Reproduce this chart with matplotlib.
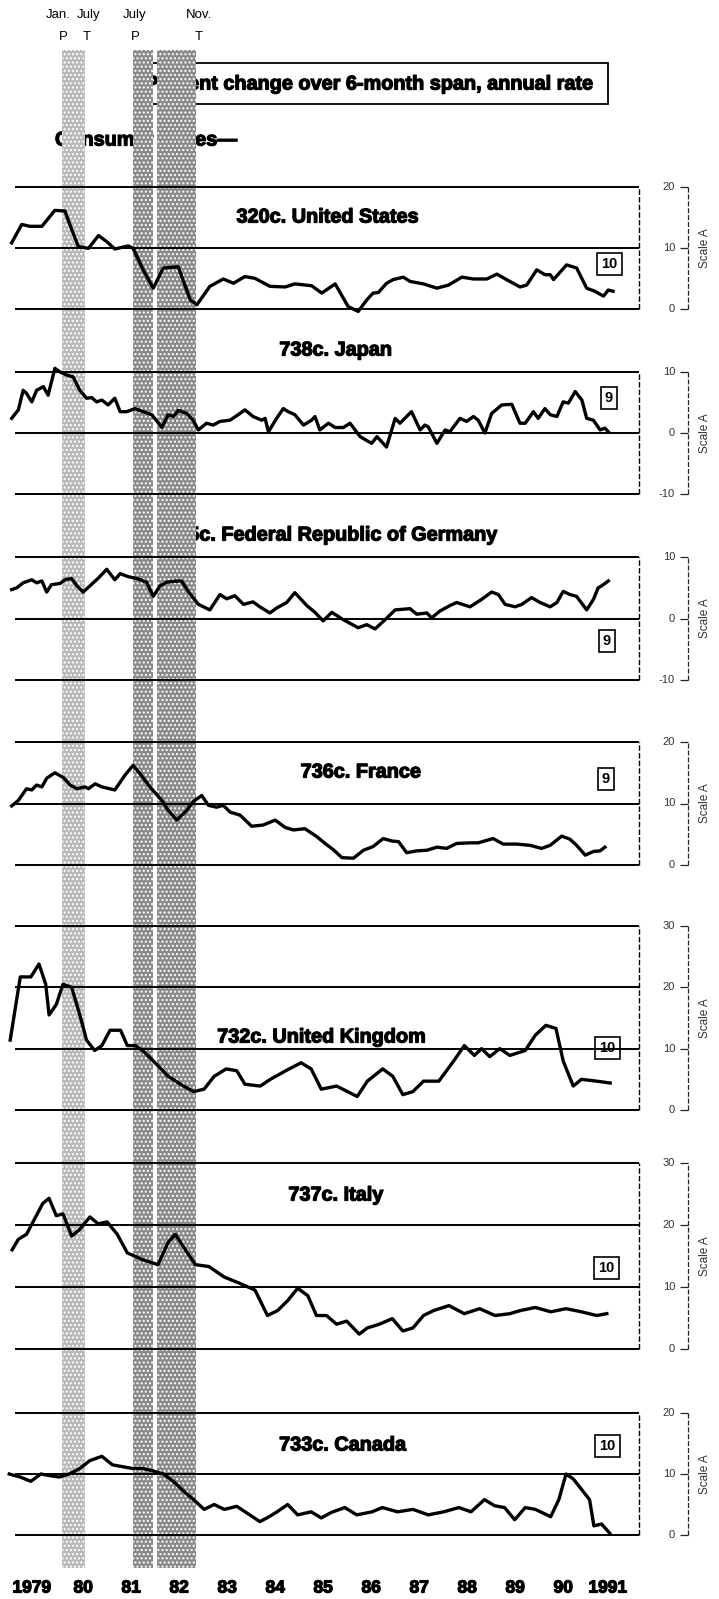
import matplotlib
matplotlib.use("Agg")
import matplotlib.pyplot as plt
import matplotlib.patheffects as pe
from matplotlib.patches import Rectangle

W, H = 719, 1599
FONT = ["Liberation Sans", "DejaVu Sans"]
plt.rcParams["font.family"] = FONT

# ---- data (year, percent) ----
us_years = [1978.93, 1979.14, 1979.31, 1979.56, 1979.83, 1980.04, 1980.18, 1980.32, 1980.53, 1980.74,
            1980.91, 1981.08, 1981.36, 1981.46, 1981.67, 1981.88, 1982.09, 1982.40, 1982.65, 1982.79,
            1983.06, 1983.34, 1983.55, 1983.79, 1984.00, 1984.31, 1984.63, 1984.83, 1985.18, 1985.39,
            1985.67, 1985.94, 1986.15, 1986.33, 1986.46, 1986.57, 1986.74, 1986.88, 1987.09, 1987.23,
            1987.51, 1987.79, 1988.03, 1988.31, 1988.55, 1988.83, 1989.04, 1989.24, 1989.52, 1989.66,
            1989.87, 1990.04, 1990.15, 1990.22, 1990.49, 1990.70, 1990.91, 1991.08, 1991.26, 1991.36,
            1991.46]
us_vals = [10.8, 13.8, 13.5, 13.5, 16.1, 16.0, 13.0, 10.2, 9.9, 12.0,
           11.0, 9.8, 10.3, 9.9, 6.4, 3.4, 6.7, 6.9, 1.5, 0.7,
           3.7, 4.9, 4.2, 5.3, 5.0, 3.7, 3.6, 4.1, 3.8, 2.6,
           4.1, 0.4, -0.4, 1.5, 2.6, 2.7, 4.2, 4.8, 5.2, 4.5,
           4.1, 3.4, 3.9, 5.2, 4.9, 4.9, 5.7, 4.8, 3.6, 3.9,
           6.4, 5.6, 5.6, 4.8, 7.2, 6.7, 3.4, 2.9, 2.1, 3.1,
           2.9]

japan_years = [1978.93, 1979.07, 1979.17, 1979.24, 1979.35, 1979.45, 1979.59, 1979.69, 1979.83, 1979.94,
               1980.08, 1980.21, 1980.35, 1980.49, 1980.60, 1980.70, 1980.81, 1980.94, 1981.08, 1981.19,
               1981.33, 1981.50, 1981.67, 1981.85, 1982.06, 1982.19, 1982.30, 1982.40, 1982.58, 1982.71,
               1982.82, 1982.99, 1983.13, 1983.27, 1983.48, 1983.65, 1983.79, 1983.96, 1984.14, 1984.21,
               1984.28, 1984.45, 1984.59, 1984.69, 1984.83, 1985.01, 1985.18, 1985.25, 1985.35, 1985.53,
               1985.67, 1985.84, 1985.98, 1986.19, 1986.43, 1986.54, 1986.74, 1986.92, 1987.02, 1987.26,
               1987.44, 1987.54, 1987.61, 1987.79, 1987.96, 1988.06, 1988.27, 1988.41, 1988.55, 1988.65,
               1988.79, 1988.93, 1989.14, 1989.35, 1989.52, 1989.63, 1989.80, 1989.90, 1990.04, 1990.15,
               1990.29, 1990.42, 1990.53, 1990.67, 1990.81, 1990.91, 1991.05, 1991.19, 1991.29, 1991.36]
japan_vals = [2.4, 3.8, 7.0, 6.5, 5.1, 7.0, 7.6, 6.2, 10.6, 10.0,
              9.5, 9.2, 7.0, 5.7, 5.8, 5.1, 5.4, 4.6, 5.7, 3.5,
              3.5, 4.0, 3.5, 3.0, 0.9, 3.0, 2.7, 3.7, 3.2, 2.1,
              0.5, 1.6, 1.3, 1.9, 2.1, 3.0, 3.8, 2.7, 2.1, 2.4,
              0.2, 2.4, 4.0, 3.5, 3.0, 1.3, 2.1, 2.7, 0.5, 1.6,
              0.9, 0.9, 1.6, -0.6, -1.7, -0.6, -2.3, 2.4, 1.6, 3.5,
              0.5, 1.3, 1.0, -1.7, 0.5, 0.2, 2.4, 1.9, 2.7, 2.1,
              0.0, 3.2, 4.6, 4.7, 1.6, 1.6, 3.5, 2.4, 4.0, 3.0,
              2.7, 5.1, 4.9, 6.8, 5.4, 2.4, 2.1, 0.5, 0.8, 0.2]

germany_years = [1978.93, 1979.04, 1979.17, 1979.35, 1979.45, 1979.56, 1979.66, 1979.76, 1979.94, 1980.04,
                 1980.18, 1980.29, 1980.42, 1980.56, 1980.74, 1980.91, 1981.08, 1981.19, 1981.36, 1981.54,
                 1981.74, 1981.88, 1982.02, 1982.16, 1982.37, 1982.47, 1982.61, 1982.82, 1983.06, 1983.27,
                 1983.41, 1983.58, 1983.76, 1983.96, 1984.10, 1984.31, 1984.45, 1984.66, 1984.83, 1985.08,
                 1985.25, 1985.42, 1985.60, 1985.84, 1986.15, 1986.33, 1986.50, 1986.71, 1986.92, 1987.23,
                 1987.37, 1987.58, 1987.68, 1987.85, 1988.06, 1988.20, 1988.48, 1988.72, 1988.93, 1989.07,
                 1989.21, 1989.42, 1989.56, 1989.76, 1989.94, 1990.15, 1990.29, 1990.42, 1990.56, 1990.70,
                 1990.91, 1991.05, 1991.15, 1991.22, 1991.36]
germany_vals = [4.7, 5.0, 5.8, 6.3, 5.8, 6.1, 4.3, 5.5, 5.7, 6.3,
                6.5, 5.3, 4.3, 5.3, 6.6, 8.0, 6.3, 7.3, 6.8, 6.5,
                5.9, 3.6, 5.3, 5.9, 6.1, 6.1, 4.4, 2.3, 1.4, 3.9,
                3.2, 3.7, 2.3, 2.7, 1.9, 0.9, 1.7, 2.6, 4.2, 2.1,
                1.0, -0.4, 1.0, -0.2, -1.5, -1.0, -1.7, -0.2, 1.4, 1.6,
                0.7, 0.9, 0.1, 1.2, 2.1, 2.6, 1.9, 3.1, 4.3, 3.9,
                2.3, 1.9, 2.3, 3.4, 2.6, 1.9, 2.6, 4.4, 3.9, 3.6,
                1.4, 3.1, 5.0, 5.3, 6.1]

france_years = [1978.93, 1979.07, 1979.24, 1979.35, 1979.45, 1979.56, 1979.66, 1979.83, 1980.01, 1980.15,
                1980.29, 1980.46, 1980.53, 1980.67, 1980.81, 1981.08, 1981.29, 1981.46, 1981.60, 1981.81,
                1982.06, 1982.19, 1982.37, 1982.58, 1982.71, 1982.89, 1983.03, 1983.20, 1983.34, 1983.48,
                1983.69, 1983.93, 1984.17, 1984.42, 1984.63, 1984.80, 1985.04, 1985.29, 1985.46, 1985.63,
                1985.81, 1986.05, 1986.26, 1986.46, 1986.67, 1986.85, 1986.99, 1987.16, 1987.37, 1987.58,
                1987.79, 1987.99, 1988.20, 1988.48, 1988.65, 1988.96, 1989.17, 1989.45, 1989.73, 1989.97,
                1990.15, 1990.39, 1990.56, 1990.70, 1990.88, 1991.05, 1991.19, 1991.29]
france_vals = [9.6, 10.5, 12.4, 12.2, 13.0, 12.7, 14.1, 15.0, 14.2, 13.0,
               12.4, 12.7, 12.4, 13.2, 12.7, 12.2, 14.6, 16.2, 14.9, 12.7,
               10.5, 8.9, 7.3, 8.9, 10.3, 11.3, 9.7, 9.4, 9.7, 8.6,
               8.1, 6.3, 6.5, 7.3, 6.1, 5.7, 5.9, 4.6, 3.5, 2.5,
               1.2, 1.1, 2.4, 3.0, 4.3, 3.9, 3.8, 2.0, 2.3, 2.4,
               2.9, 2.7, 3.5, 3.6, 3.6, 4.3, 3.4, 3.4, 3.2, 2.7,
               3.2, 4.7, 4.2, 3.2, 1.6, 2.2, 2.3, 2.9]

uk_years = [1978.90, 1979.11, 1979.33, 1979.50, 1979.64, 1979.71, 1979.86, 1980.00, 1980.18, 1980.35,
            1980.49, 1980.66, 1980.81, 1980.98, 1981.20, 1981.34, 1981.51, 1981.66, 1981.88, 1982.19,
            1982.51, 1982.72, 1982.94, 1983.15, 1983.40, 1983.62, 1983.79, 1984.11, 1984.32, 1984.64,
            1984.96, 1985.17, 1985.38, 1985.70, 1986.13, 1986.34, 1986.66, 1986.87, 1987.08, 1987.29,
            1987.51, 1987.83, 1988.14, 1988.36, 1988.57, 1988.72, 1988.89, 1989.10, 1989.31, 1989.63,
            1989.84, 1990.06, 1990.27, 1990.42, 1990.63, 1990.80, 1991.12, 1991.40]
uk_vals = [11.4, 21.7, 21.7, 23.8, 20.5, 15.5, 17.2, 20.5, 20.0, 15.5,
           11.4, 9.7, 10.5, 13.0, 13.0, 10.5, 10.5, 9.7, 8.0, 5.5,
           3.9, 3.0, 3.4, 5.5, 6.7, 6.4, 4.2, 3.9, 5.0, 6.4,
           7.7, 6.7, 3.4, 3.9, 2.2, 4.7, 6.7, 5.5, 2.5, 3.0,
           4.7, 4.7, 8.0, 10.5, 8.9, 10.0, 8.7, 10.0, 8.9, 9.7,
           12.2, 13.8, 13.3, 8.0, 3.9, 5.0, 4.7, 4.4]

italy_years = [1978.94, 1979.07, 1979.24, 1979.41, 1979.58, 1979.71, 1979.86, 1980.00, 1980.18, 1980.35,
               1980.56, 1980.73, 1980.92, 1981.13, 1981.34, 1981.66, 1981.98, 1982.19, 1982.34, 1982.55,
               1982.76, 1983.04, 1983.36, 1983.68, 1984.00, 1984.26, 1984.47, 1984.68, 1984.89, 1985.10,
               1985.28, 1985.49, 1985.70, 1985.91, 1986.17, 1986.34, 1986.59, 1986.86, 1987.08, 1987.29,
               1987.51, 1987.72, 1988.04, 1988.36, 1988.68, 1989.00, 1989.31, 1989.53, 1989.84, 1990.16,
               1990.48, 1990.80, 1991.12, 1991.33]
italy_vals = [16.0, 17.7, 18.5, 21.0, 23.5, 24.3, 21.5, 21.8, 18.2, 19.3,
              21.3, 20.2, 20.5, 18.5, 15.5, 14.4, 13.6, 17.2, 18.5, 16.0,
              13.6, 13.3, 11.6, 10.6, 9.5, 5.4, 6.2, 7.8, 9.8, 8.6,
              5.4, 5.4, 4.0, 4.5, 2.4, 3.4, 4.0, 4.9, 2.9, 3.4,
              5.4, 6.2, 7.0, 5.7, 6.5, 5.4, 5.7, 6.2, 6.7, 6.0,
              6.5, 6.0, 5.4, 5.7]

canada_years = [1978.88, 1979.11, 1979.33, 1979.54, 1979.75, 1979.92, 1980.13, 1980.35, 1980.56, 1980.81,
                1981.03, 1981.24, 1981.45, 1981.66, 1981.88, 1982.09, 1982.30, 1982.51, 1982.72, 1982.94,
                1983.15, 1983.36, 1983.62, 1983.89, 1984.10, 1984.25, 1984.46, 1984.68, 1984.89, 1985.17,
                1985.38, 1985.59, 1985.87, 1986.12, 1986.44, 1986.65, 1986.97, 1987.29, 1987.61, 1987.93,
                1988.25, 1988.50, 1988.78, 1988.99, 1989.20, 1989.41, 1989.63, 1989.84, 1990.16, 1990.33,
                1990.48, 1990.63, 1990.80, 1990.97, 1991.06, 1991.22, 1991.39]
canada_vals = [10.0, 9.5, 8.8, 10.0, 9.7, 9.5, 10.0, 10.9, 12.2, 12.9,
               11.5, 11.2, 10.9, 10.9, 10.5, 10.0, 8.8, 7.2, 5.8, 4.2,
               5.0, 4.2, 4.7, 3.3, 2.2, 2.8, 3.8, 5.0, 3.3, 3.8,
               2.8, 3.7, 4.5, 3.3, 3.8, 4.5, 3.8, 4.2, 3.3, 3.8,
               4.5, 3.8, 5.8, 4.8, 4.5, 2.5, 4.5, 4.2, 3.0, 5.8,
               10.0, 9.2, 7.5, 5.8, 1.5, 1.8, 0.3]

titles = ["320c. United States", "738c. Japan", "735c. Federal Republic of Germany", "736c. France",
          "732c. United Kingdom", "737c. Italy", "733c. Canada"]
series = [(us_years, us_vals), (japan_years, japan_vals), (germany_years, germany_vals),
          (france_years, france_vals), (uk_years, uk_vals), (italy_years, italy_vals),
          (canada_years, canada_vals)]
scale_ticks = [[0, 10, 20], [-10, 0, 10], [-10, 0, 10], [0, 10, 20],
               [0, 10, 20, 30], [0, 10, 20, 30], [0, 10, 20]]
box_numbers = ["10", "9", "9", "9", "10", "10", "10"]

turning_points = [1980.0, 1980.5, 1981.5, 1982.83]
turning_months = ["Jan.", "July", "July", "Nov."]
turning_kind = ["P", "T", "P", "T"]
shaded = [(1979.98, 1980.45), (1981.45, 1981.87), (1981.96, 1982.77)]

year_ticks = list(range(1979, 1992))
year_labels = ["1979", "80", "81", "82", "83", "84", "85", "86", "87", "88", "89", "90", "1991"]

# ---- layout (pixels) ----
XMIN, XMAX = 1978.8, 1992.0
X0_PX, X1_PX = 5.4, 639.0
panel_top = [186.5, 372, 557, 742, 926, 1163, 1413]
panel_bot = [309, 494, 680, 865, 1110, 1349, 1535]
title_pos = [(328, 217), (336, 350), (332, 535), (361, 772), (322, 1037), (336, 1195), (343, 1445)]
box_pos = [(609, 264), (609, 398), (607, 641), (606, 779), (607, 1048), (606, 1268), (607, 1446)]
month_nudge = [-3.5, 1.5, 0, 0]  # points, keeps "Jan." and "July" apart

heavy = [pe.withStroke(linewidth=0.9, foreground="black")]

fig = plt.figure(figsize=(W / 100, H / 100), dpi=100)

# background layer: texts in pixel coordinates
bg = fig.add_axes([0, 0, 1, 1], zorder=0)
bg.set_xlim(0, W)
bg.set_ylim(H, 0)
bg.axis("off")

bg.add_patch(Rectangle((140, 63), 468, 41, fill=False, lw=1.3, ec="black"))
bg.text(145, 84, "Percent change over 6-month span, annual rate", ha="left", va="center",
        fontsize=14.3, fontweight="bold", path_effects=heavy)
bg.text(55, 140, "Consumer prices\u2014", ha="left", va="center", fontsize=14.3,
        fontweight="bold", path_effects=heavy)

for t, (tx, ty) in zip(titles, title_pos):
    bg.text(tx, ty, t, ha="center", va="center", fontsize=14.3, fontweight="bold",
            path_effects=heavy)

# recession shading layer, x in years, y in pixels
band = fig.add_axes([X0_PX / W, 0, (X1_PX - X0_PX) / W, 1], zorder=1)
band.set_xlim(XMIN, XMAX)
band.set_ylim(H, 0)
band.axis("off")
band.patch.set_alpha(0)
for i, (a, b) in enumerate(shaded):
    col = "#b9b9b9" if i == 0 else "#8a8a8a"
    band.fill_between([a, b], 50, 1568, color=col, lw=0, hatch="....", edgecolor="white")
for tp, m, k, dx in zip(turning_points, turning_months, turning_kind, month_nudge):
    band.annotate(m, (tp, 15), xytext=(dx, 0), textcoords="offset points", ha="center",
                  va="center", fontsize=9.5, annotation_clip=False)
    band.text(tp, 37, k, ha="center", va="center", fontsize=9.5, clip_on=False)
for yr, lab in zip(year_ticks, year_labels):
    off = 0.35 if len(lab) == 4 else 0.42
    band.text(yr + off, 1588, lab, ha="center", va="center", fontsize=12.5, fontweight="bold",
              clip_on=False, path_effects=heavy)

# panels
SCALE_X = 1993.02
for i in range(7):
    yrs, vals = series[i]
    ticks = scale_ticks[i]
    lo, hi = min(ticks), max(ticks)
    top, bot = panel_top[i], panel_bot[i]
    ax = fig.add_axes([X0_PX / W, 1 - bot / H, (X1_PX - X0_PX) / W, (bot - top) / H], zorder=2)
    ax.set_xlim(XMIN, XMAX)
    ax.set_ylim(lo, hi)
    ax.axis("off")
    ax.patch.set_alpha(0)
    ax.hlines(ticks, 1979.0, 1992.0, color="black", lw=1.4, clip_on=False)
    ax.vlines(1992.0, lo, hi, color="black", lw=1.0, linestyles=(0, (4, 1.5)), clip_on=False)
    ax.plot(yrs, vals, color="black", lw=2.4, solid_joinstyle="round", clip_on=False)

    # right-hand scale
    ax.vlines(SCALE_X, lo, hi, color="#222222", lw=0.9, linestyles=(0, (4, 1.5)), clip_on=False)
    for t in ticks:
        ax.hlines(t, SCALE_X - 0.17, SCALE_X, color="#222222", lw=0.9, clip_on=False)
        ax.text(SCALE_X - 0.27, t, str(t), ha="right", va="center", fontsize=8,
                color="#333333", clip_on=False)
    ax.text(SCALE_X + 0.36, (lo + hi) / 2, "Scale A", rotation=90, ha="center", va="center",
            fontsize=8.5, color="#333333", clip_on=False)

    bx, by = box_pos[i]
    bg.text(bx, by, box_numbers[i], ha="center", va="center", fontsize=10.5, fontweight="bold",
            zorder=5, bbox=dict(boxstyle="square,pad=0.3", fc="white", ec="black", lw=1.2))

fig.savefig("out.png", dpi=100)
